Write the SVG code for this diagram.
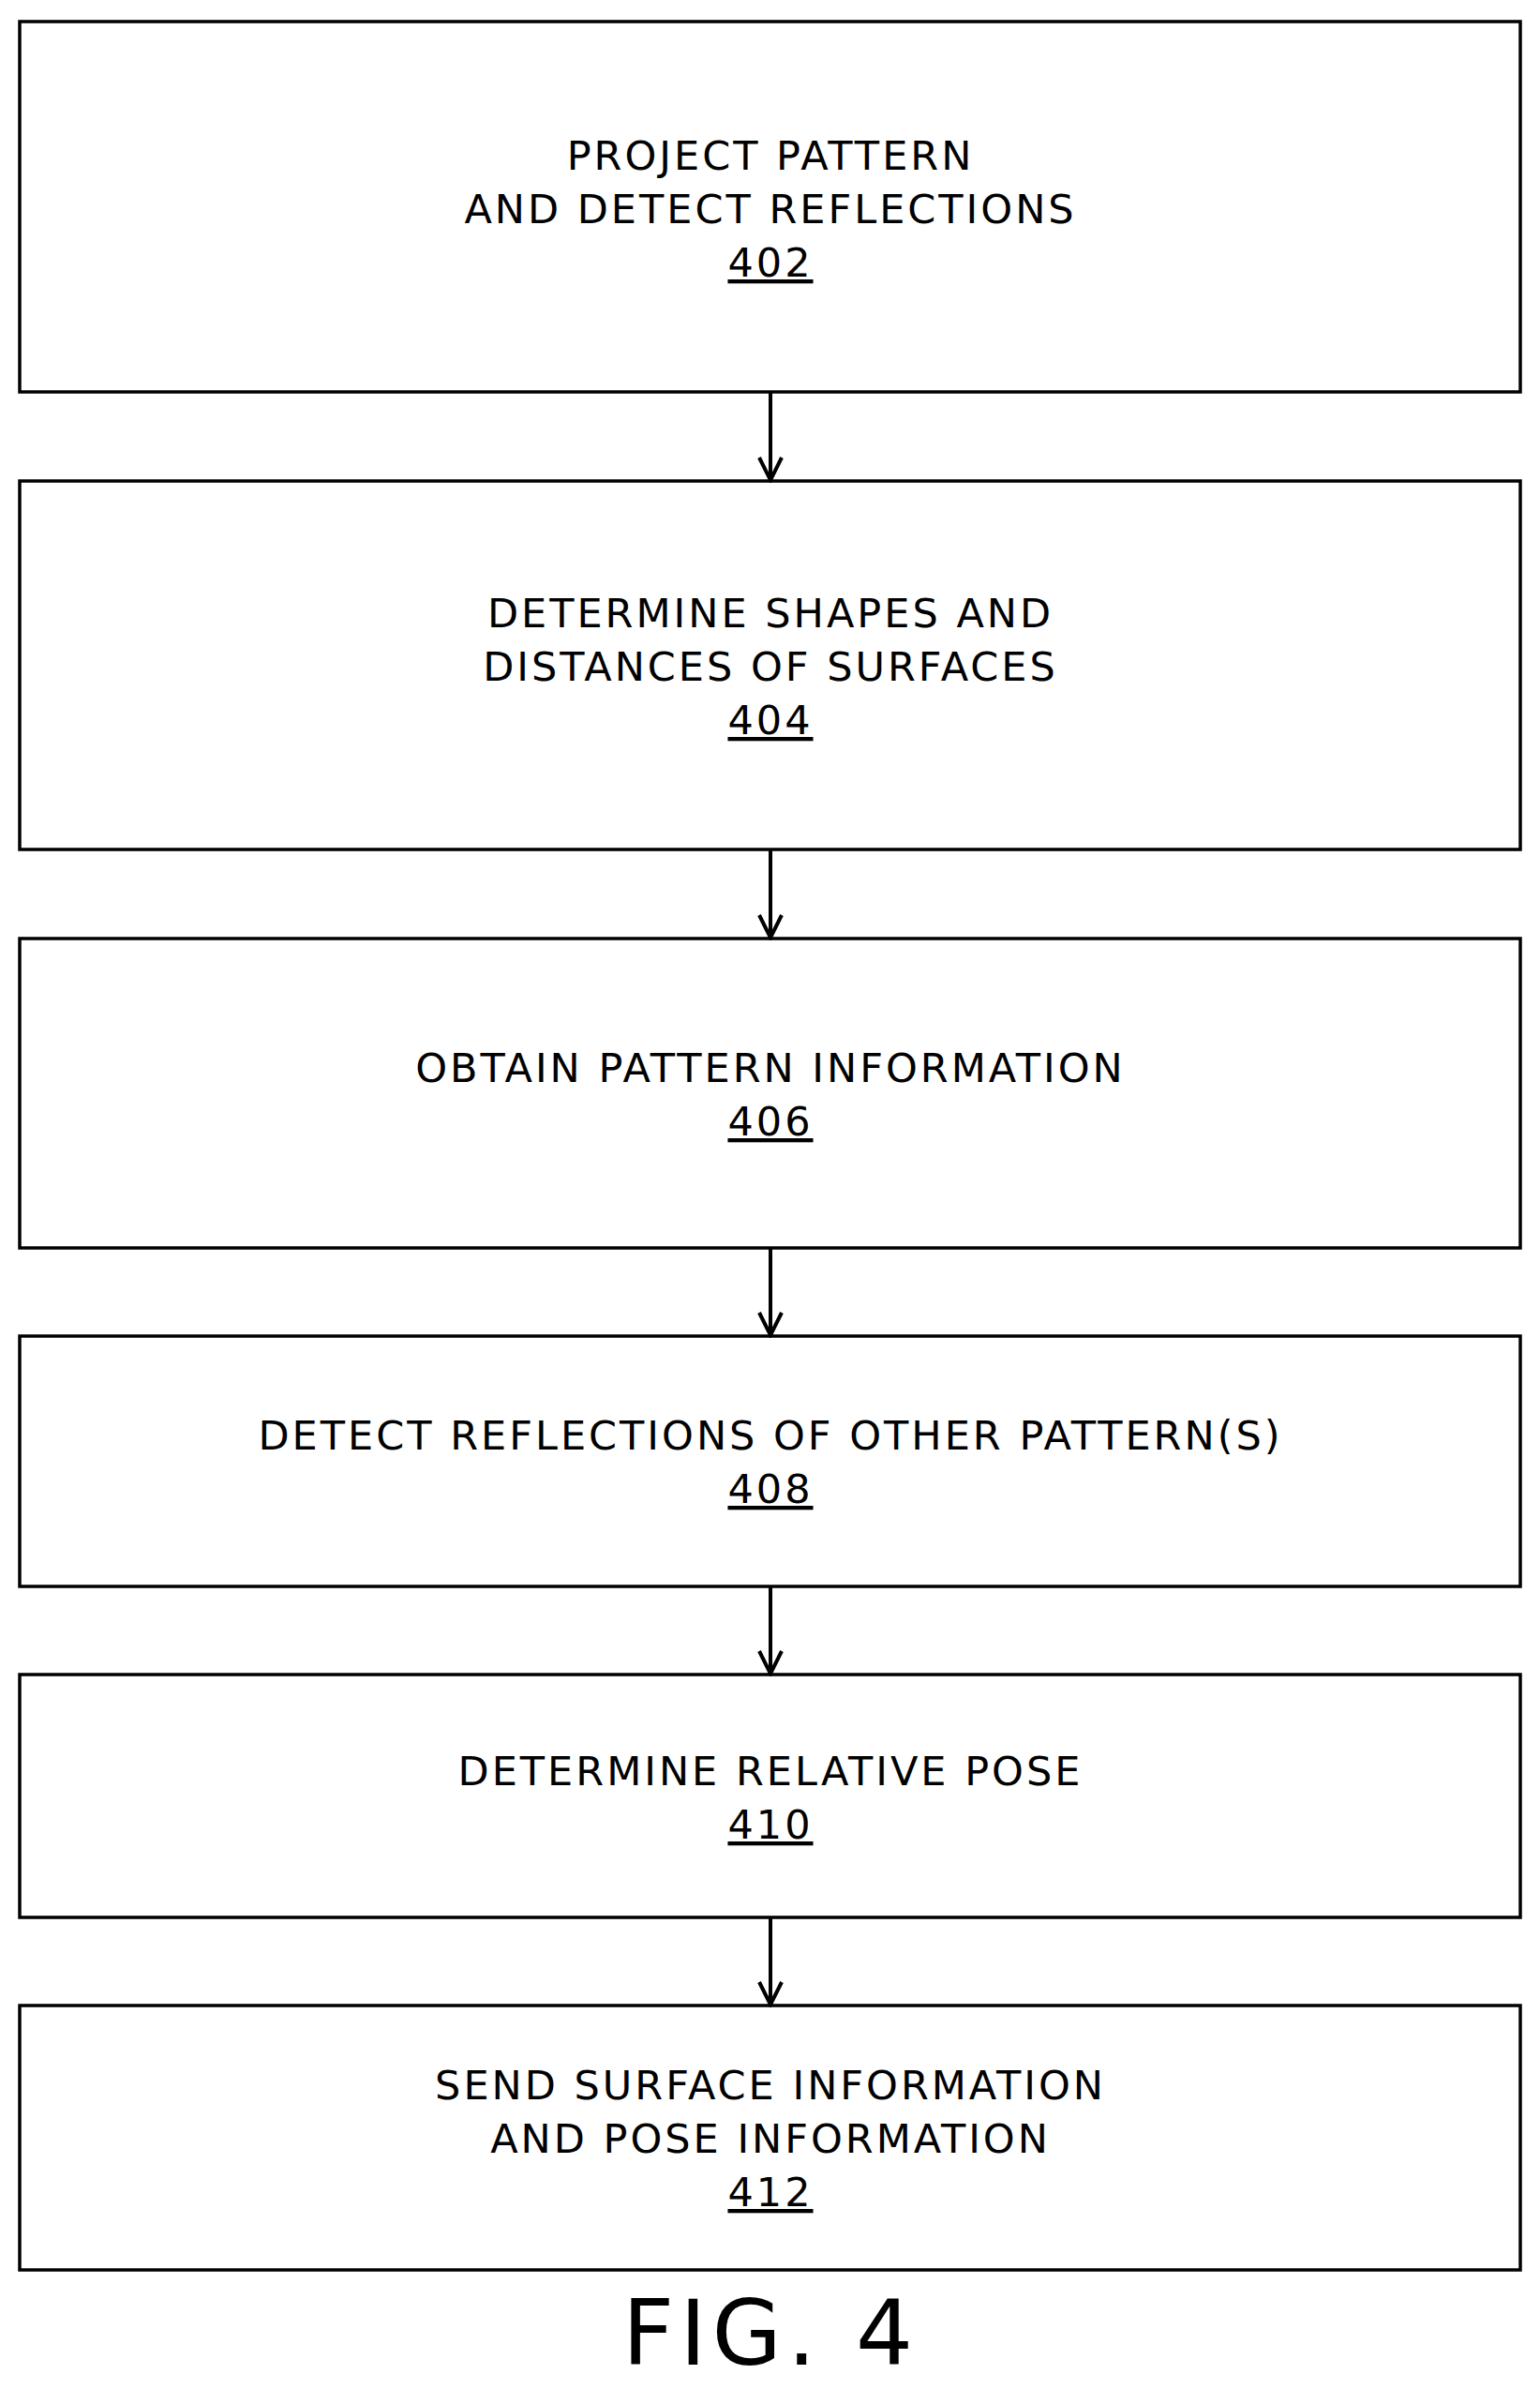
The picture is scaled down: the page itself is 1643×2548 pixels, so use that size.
<svg xmlns="http://www.w3.org/2000/svg" width="1643" height="2548" viewBox="0 0 1643 2548">
<style>
.b{fill:#fff;stroke:#000;stroke-width:3.5}
.t{font-family:"DejaVu Sans",Verdana,sans-serif;font-size:43px;letter-spacing:3px;text-anchor:middle;fill:#000}
.u{text-decoration:underline}
.c{stroke:#000;stroke-width:4;fill:none}
</style>
<defs><marker id="a" viewBox="0 0 30 30" refX="26" refY="15" markerWidth="30" markerHeight="30" markerUnits="userSpaceOnUse" orient="auto"><path d="M3,3 L27,15 L3,27" fill="none" stroke="#000" stroke-width="4"/></marker></defs>
<rect width="1643" height="2548" fill="#fff"/>
<g id="n402"><rect class="b" x="21" y="23" width="1601" height="395"/><text class="t" x="822" y="181">PROJECT PATTERN</text><text class="t" x="822" y="238">AND DETECT REFLECTIONS</text><text class="t u" x="822" y="295">402</text></g>
<g id="n404"><rect class="b" x="21" y="513" width="1601" height="393"/><text class="t" x="822" y="669">DETERMINE SHAPES AND</text><text class="t" x="822" y="726">DISTANCES OF SURFACES</text><text class="t u" x="822" y="783">404</text></g>
<g id="n406"><rect class="b" x="21" y="1001" width="1601" height="330"/><text class="t" x="822" y="1154">OBTAIN PATTERN INFORMATION</text><text class="t u" x="822" y="1211">406</text></g>
<g id="n408"><rect class="b" x="21" y="1425" width="1601" height="267"/><text class="t" x="822" y="1546">DETECT REFLECTIONS OF OTHER PATTERN(S)</text><text class="t u" x="822" y="1603">408</text></g>
<g id="n410"><rect class="b" x="21" y="1786" width="1601" height="259"/><text class="t" x="822" y="1904">DETERMINE RELATIVE POSE</text><text class="t u" x="822" y="1961">410</text></g>
<g id="n412"><rect class="b" x="21" y="2139" width="1601" height="282"/><text class="t" x="822" y="2239">SEND SURFACE INFORMATION</text><text class="t" x="822" y="2296">AND POSE INFORMATION</text><text class="t u" x="822" y="2353">412</text></g>
<g id="connectors">
<line class="c" x1="822" y1="418" x2="822" y2="511" marker-end="url(#a)"/>
<line class="c" x1="822" y1="906" x2="822" y2="999" marker-end="url(#a)"/>
<line class="c" x1="822" y1="1331" x2="822" y2="1423" marker-end="url(#a)"/>
<line class="c" x1="822" y1="1692" x2="822" y2="1784" marker-end="url(#a)"/>
<line class="c" x1="822" y1="2045" x2="822" y2="2137" marker-end="url(#a)"/>
</g>
<text x="822" y="2522" style="font-family:'DejaVu Sans',Verdana,sans-serif;font-size:96px;letter-spacing:6px;text-anchor:middle">FIG. 4</text>
</svg>
